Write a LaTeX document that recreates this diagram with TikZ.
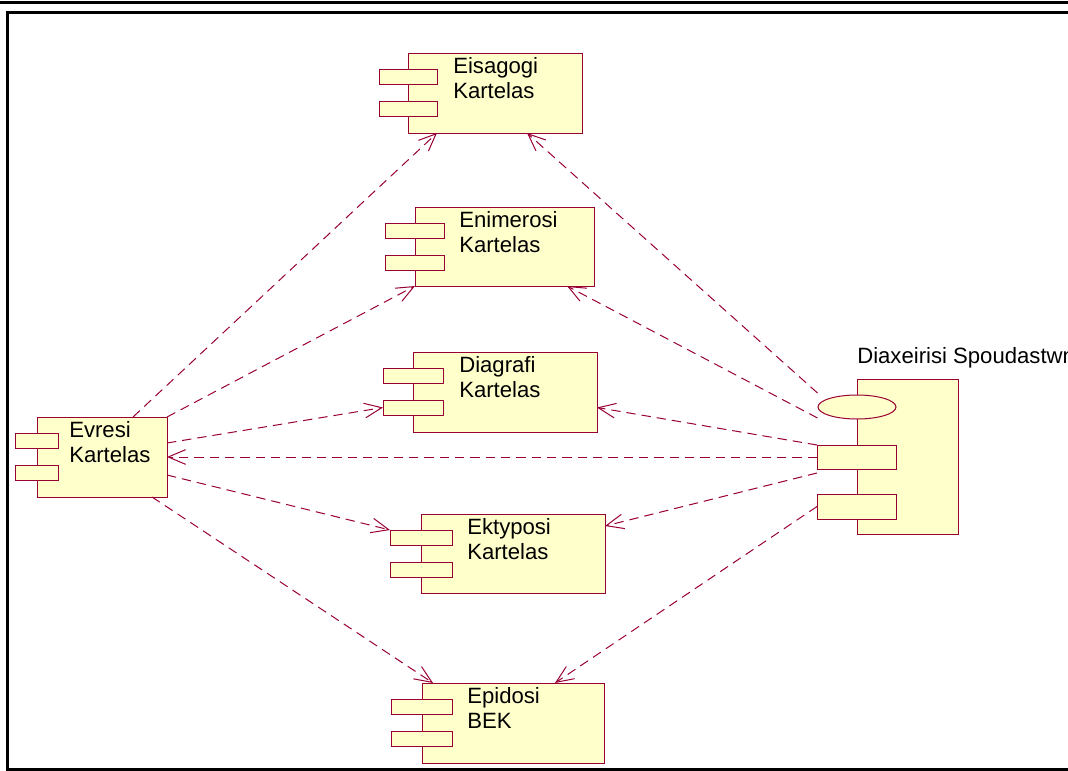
\documentclass[tikz,border=0pt]{standalone}
\usepackage{fontspec}
\setmainfont{Liberation Sans}
\usetikzlibrary{arrows.meta,shapes.geometric}
\definecolor{umlred}{HTML}{990033}
\definecolor{umlfill}{HTML}{FFFFCC}
\tikzset{
  compbox/.style={draw=umlred, fill=umlfill, line width=0.75pt, rectangle, inner sep=0pt, outer sep=0pt, anchor=north west},
  lbl/.style={anchor=base west, inner sep=0pt, font=\fontsize{16.6}{19}\selectfont},
  dep/.style={draw=umlred, line width=0.75pt, dash pattern=on 7pt off 4.5pt, -{Straight Barb[length=13pt,width=11pt]}},
  framerule/.style={draw=black}
}
% name, left, top, right, bottom, port half width, text x, line1, line2
\newcommand\umlcomp[9]{%
  \node[compbox, minimum width={(#4-#2)*0.75pt}, minimum height={(#5-#3)*0.75pt}] (#1) at (#2,#3) {};
  \node[compbox, minimum width={2*#6*0.75pt}, minimum height=11.25pt] (#1p1) at ({#2-#6},{#3+16}) {};
  \node[compbox, minimum width={2*#6*0.75pt}, minimum height=11.25pt] (#1p2) at ({#2-#6},{#3+48}) {};
  \node[lbl] (#1t1) at (#7,{#3+20}) {#8};
  \node[lbl] (#1t2) at (#7,{#3+45}) {#9};
}
\begin{document}
\begin{tikzpicture}[x=0.75pt,y=-0.75pt]
\useasboundingbox (0,0) rectangle (1068,771);
\fill[white] (0,0) rectangle (1068,771);
% frame
\draw[framerule, line width=2.25pt] (-5,2) -- (1075,2);
\draw[framerule, line width=1.6pt] (1075,12.5) -- (7.5,12.5) -- (7.5,769.5) -- (1075,769.5);

% components
\umlcomp{eis}{408}{53}{582}{133}{29}{453}{Eisagogi}{Kartelas}
\umlcomp{enm}{415}{207}{594}{286}{29.5}{459}{Enimerosi}{Kartelas}
\umlcomp{dgr}{413}{352}{597}{432}{30}{459}{Diagrafi}{Kartelas}
\umlcomp{ekt}{421}{514}{605}{593}{31}{467}{Ektyposi}{Kartelas}
\umlcomp{epi}{422}{683}{604}{763}{30.5}{467}{Epidosi}{BEK}
\umlcomp{evr}{37}{417}{167}{497}{21.5}{69}{Evresi}{Kartelas}

% Diaxeirisi Spoudastwn
\node[compbox, minimum width={101*0.75pt}, minimum height={155*0.75pt}] (dx) at (857,379) {};
\node[draw=umlred, fill=umlfill, line width=0.75pt, ellipse, inner sep=0pt, minimum width={78*0.75pt}, minimum height={24*0.75pt}] (dxE) at (857,407) {};
\node[compbox, minimum width={79*0.75pt}, minimum height={24*0.75pt}] (dxp1) at (817,445) {};
\node[compbox, minimum width={79*0.75pt}, minimum height={25*0.75pt}] (dxp2) at (817,494) {};
\node[lbl] (dxL) at (857,363) {Diaxeirisi Spoudastwn};

% dependencies from Evresi
\draw[dep] ([xshift=23.25pt]evr.north) -- (eisp2.east |- eis.south);
\draw[dep] (evr.north east) -- (enm.south west);
\draw[dep] ([yshift=10.5pt]evr.east) -- (dgrp2.west);
\draw[dep] ([yshift=-13.5pt]evr.east) -- (ektp1.north west);
\draw[dep] ([xshift=37.5pt]evr.south) -- ([xshift=8.25pt]epi.north west);

% dependencies from Diaxeirisi
\draw[dep] ([yshift=10.5pt]dxE.west) -- ([xshift=-41.25pt]eis.south east);
\draw[dep] ([yshift=-8.25pt]dxE.west) -- ([xshift=-20.25pt]enm.south east);
\draw[dep] (dxp1.north west) -- (dgr.east |- dgrp2.center);
\draw[dep] (dxp1.west) -- (evr.east);
\draw[dep] ([yshift=-3pt]dxp1.south west) -- ([yshift=-9pt]ekt.north east);
\draw[dep] (dxp2.west) -- ([xshift=-36.75pt]epi.north east);
\end{tikzpicture}
\end{document}
